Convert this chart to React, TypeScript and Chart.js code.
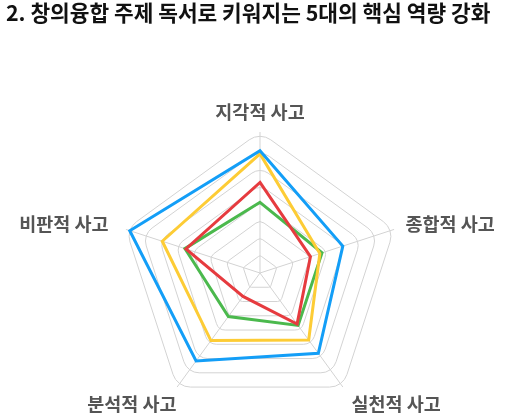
import React, { useEffect, useRef } from "react";
import { Chart, registerables } from "chart.js";

Chart.register(...registerables);

const TITLE = "2. 창의융합 주제 독서로 키워지는 5대의 핵심 역량 강화";
const categories = ["지각적 사고", "종합적 사고", "실천적 사고", "분석적 사고", "비판적 사고"];
const blueValues = [6.94, 4.94, 5.63, 6.17, 7.77];
const yellowValues = [6.76, 3.57, 4.7, 4.74, 5.83];
const redValues = [5.14, 3.01, 3.58, 1.64, 4.42];
const greenValues = [4.01, 3.7, 3.68, 3.05, 4.48];
const scaleMax = 8;
const scaleStep = 1;

const GRID = "#d3d3d3";

function roundedPolygon(ctx: CanvasRenderingContext2D, pts: { x: number; y: number }[], rc: number) {
  const n = pts.length;
  const mid = (a: any, b: any) => ({ x: (a.x + b.x) / 2, y: (a.y + b.y) / 2 });
  const start = mid(pts[n - 1], pts[0]);
  ctx.beginPath();
  ctx.moveTo(start.x, start.y);
  for (let i = 0; i < n; i++) {
    const p = pts[i];
    const next = mid(pts[i], pts[(i + 1) % n]);
    ctx.arcTo(p.x, p.y, next.x, next.y, rc);
  }
  ctx.closePath();
}

const roundedGridPlugin = {
  id: "roundedGrid",
  beforeDatasetsDraw(chart: any) {
    const scale = chart.scales.r;
    const ctx = chart.ctx as CanvasRenderingContext2D;
    ctx.save();
    ctx.strokeStyle = GRID;
    ctx.lineWidth = 1;
    for (let v = scaleStep; v <= scaleMax + 1e-9; v += scaleStep) {
      const dist = scale.getDistanceFromCenterForValue(v);
      const pts = categories.map((_, i) => scale.getPointPosition(i, dist));
      roundedPolygon(ctx, pts, dist * 0.13);
      ctx.stroke();
    }
    ctx.restore();
  },
};

const labelPlugin = {
  id: "labelPlugin",
  afterDraw(chart: any) {
    const scale = chart.scales.r;
    const ctx = chart.ctx as CanvasRenderingContext2D;
    const R = scale.drawingArea;
    ctx.save();
    ctx.font = "bold 18.5px 'Noto Sans CJK KR', 'Noto Sans', sans-serif";
    ctx.fillStyle = "#555555";
    const cfg = [
      { pad: 20, align: "center", dx: 0, dy: 0 },
      { pad: 13, align: "left", dx: -1, dy: -1 },
      { pad: 13, align: "left", dx: 1, dy: 6 },
      { pad: 13, align: "right", dx: 7, dy: 6 },
      { pad: 13, align: "right", dx: -5, dy: -1 },
    ];
    categories.forEach((label, i) => {
      const c = cfg[i];
      const p = scale.getPointPosition(i, R + c.pad);
      ctx.textAlign = c.align as CanvasTextAlign;
      ctx.textBaseline = "middle";
      ctx.fillText(label, p.x + c.dx, p.y + c.dy);
    });
    ctx.restore();
  },
};

export default function App() {
  const ref = useRef<HTMLCanvasElement | null>(null);
  useEffect(() => {
    if (!ref.current) return;
    const chart = new Chart(ref.current, {
      type: "radar",
      data: {
        labels: categories,
        datasets: [
          { label: "blue", data: blueValues, borderColor: "#139ef7" },
          { label: "yellow", data: yellowValues, borderColor: "#fdcc35" },
          { label: "red", data: redValues, borderColor: "#e63b3f" },
          { label: "green", data: greenValues, borderColor: "#4bb94d" },
        ].map((d) => ({ ...d, borderWidth: 3, fill: false, pointRadius: 0, pointHoverRadius: 0, tension: 0, backgroundColor: "transparent" })),
      },
      options: {
        animation: false,
        responsive: false,
        maintainAspectRatio: false,
        layout: { padding: { left: 119, right: 110, top: 132, bottom: 16 } },
        plugins: { legend: { display: false }, tooltip: { enabled: false }, title: { display: false } },
        elements: { line: { borderJoinStyle: "miter" } },
        scales: {
          r: {
            min: 0,
            max: scaleMax,
            ticks: { display: false, stepSize: scaleStep },
            grid: { display: false },
            angleLines: { display: true, color: GRID, lineWidth: 1 },
            pointLabels: { display: false },
          },
        },
      },
      plugins: [roundedGridPlugin, labelPlugin],
    });
    return () => chart.destroy();
  }, []);
  return (
    <div style={{ position: "fixed", left: 0, top: 0, width: 512, height: 413, background: "#fff", overflow: "hidden" }}>
      <canvas ref={ref} width={512} height={430} style={{ position: "absolute", left: 0, top: 0, width: 512, height: 430 }} />
      <div
        style={{
          position: "absolute",
          left: 6,
          top: 0,
          fontFamily: "'Noto Sans CJK KR', sans-serif",
          fontWeight: 700,
          fontSize: 21.4,
          lineHeight: "24px",
          color: "#111",
          whiteSpace: "nowrap",
        }}
      >
        {TITLE}
      </div>
    </div>
  );
}
